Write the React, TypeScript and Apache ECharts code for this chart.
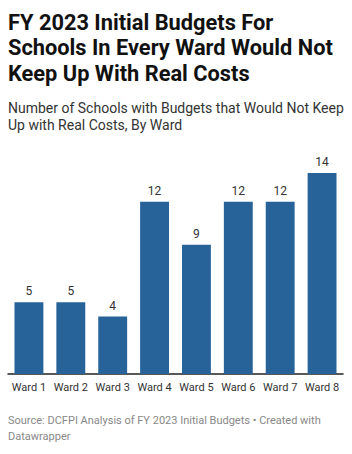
import React, { useEffect, useRef } from "react";
import * as echarts from "echarts";

const categories = ["Ward 1", "Ward 2", "Ward 3", "Ward 4", "Ward 5", "Ward 6", "Ward 7", "Ward 8"];
const values = [5, 5, 4, 12, 9, 12, 12, 14];
const titleText = "FY 2023 Initial Budgets For\nSchools In Every Ward Would Not\nKeep Up With Real Costs";
const subtitleText = "Number of Schools with Budgets that Would Not Keep\nUp with Real Costs, By Ward";
const sourceText = "Source: DCFPI Analysis of FY 2023 Initial Budgets \u2022 Created with\nDatawrapper";

export default function App() {
  const ref = useRef<HTMLDivElement>(null);
  useEffect(() => {
    document.body.style.margin = "0";
    const chart = echarts.init(ref.current!, null, { renderer: "svg" });
    chart.setOption({
      animation: false,
      textStyle: { fontFamily: "Roboto" },
      graphic: [
        {
          type: "text",
          left: 8,
          top: 9.5,
          style: {
            text: titleText,
            font: "bold 21.8px Roboto",
            lineHeight: 25.5,
            fill: "#111",
          },
        },
        {
          type: "text",
          left: 8,
          top: 99,
          style: {
            text: subtitleText,
            font: "14px Roboto",
            lineHeight: 17,
            fill: "#333",
          },
        },
        {
          type: "text",
          left: 8,
          top: 412,
          style: {
            text: sourceText,
            font: "11px Roboto",
            lineHeight: 16,
            fill: "#888",
          },
        },
      ],
      grid: { left: 8, right: 9, top: 173, bottom: 80, containLabel: false },
      xAxis: {
        type: "category",
        data: categories,
        axisLine: { lineStyle: { color: "#222", width: 1.5 } },
        axisTick: { show: false },
        axisLabel: { color: "#333", fontSize: 11, margin: 8, interval: 0, fontFamily: "Roboto" },
      },
      yAxis: {
        type: "value",
        min: 0,
        max: 14,
        show: false,
        splitLine: { show: false },
      },
      series: [
        {
          type: "bar",
          data: values,
          barCategoryGap: "31%",
          itemStyle: { color: "#276399" },
          label: {
            show: true,
            position: "top",
            distance: 5,
            color: "#333",
            fontSize: 12,
            fontFamily: "Roboto",
          },
        },
      ],
    });
    return () => chart.dispose();
  }, []);
  return <div ref={ref} style={{ width: 352, height: 454 }} />;
}
